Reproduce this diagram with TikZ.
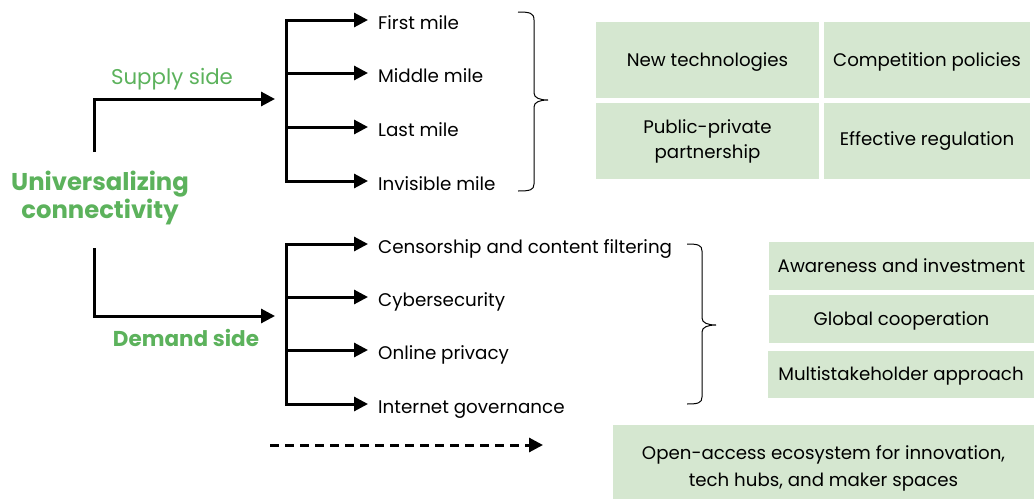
\documentclass[tikz,border=0pt]{standalone}
\usepackage{fontspec}
\setmainfont{Poppins}
\usetikzlibrary{arrows.meta}
\definecolor{grn}{RGB}{92,178,92}
\definecolor{boxg}{RGB}{213,231,208}
\begin{document}
\begin{tikzpicture}[x=1pt,y=-1pt,
  conn/.style={line width=3pt,-{Triangle[length=14pt,width=14pt]}},
  trunk/.style={line width=3pt,line cap=rect},
  item/.style={anchor=west,inner xsep=10pt,inner ysep=0pt,text height=12.5pt,text depth=0pt,yshift=-3.5pt,font=\fontsize{18.3}{21}\selectfont},
  gbox/.style={fill=boxg,inner sep=0pt,align=center,font=\fontsize{18.2}{25}\selectfont},
  onel/.style={text height=12.8pt,text depth=0pt},
  bracestyle/.style={line width=1pt},
  side/.style={text=grn,inner sep=0pt,font=\fontsize{21.3}{24}\selectfont}]
\useasboundingbox (0,0) rectangle (1036,498);

% main label
\node[text=grn,align=center,inner sep=0pt,font=\bfseries\fontsize{24.3}{28}\selectfont] (uc) at (100,198) {Universalizing\\connectivity};

% supply side
\coordinate (s0) at (94,152);
\coordinate (s1) at (275,99);
\draw[conn] (s0) |- (s1);
\node[side] (sup) at (172,79) {Supply side};

\coordinate (t1) at (286,20);
\coordinate (t2) at (286,73);
\coordinate (t3) at (286,127);
\coordinate (t4) at (286,181);
\draw[trunk] (t1) -- (t4);
\node[item] (i1) at (368,20) {First mile};
\node[item] (i2) at (368,73) {Middle mile};
\node[item] (i3) at (368,127) {Last mile};
\node[item] (i4) at (368,181) {Invisible mile};
\foreach \k in {1,2,3,4} \draw[conn] (t\k) -- (t\k -| i\k.west);

% demand side
\coordinate (d0) at (94,248);
\coordinate (d1) at (275,316);
\draw[conn] (d0) |- (d1);
\node[side,font=\bfseries\fontsize{21.5}{24}\selectfont] (dem) at (186,338) {Demand side};

\coordinate (u1) at (286,244);
\coordinate (u2) at (286,297);
\coordinate (u3) at (286,350);
\coordinate (u4) at (286,404);
\draw[trunk] (u1) -- (u4);
\node[item] (j1) at (368,244) {Censorship and content filtering};
\node[item] (j2) at (368,297) {Cybersecurity};
\node[item] (j3) at (368,350) {Online privacy};
\node[item] (j4) at (368,404) {Internet governance};
\foreach \k in {1,2,3,4} \draw[conn] (u\k) -- (u\k -| j\k.west);

% brackets
\draw[bracestyle] (518,12) .. controls (530,12) and (534,13) .. (534,20) -- (534,93)
  .. controls (534,98) and (540,100) .. (548,100)
  .. controls (540,100) and (534,102) .. (534,107) -- (534,184)
  .. controls (534,190) and (530,191) .. (518,191);
\draw[bracestyle] (687,244) .. controls (698,244) and (702,245) .. (702,251) -- (702,318)
  .. controls (702,323) and (708,325) .. (716,325)
  .. controls (708,325) and (702,327) .. (702,332) -- (702,397)
  .. controls (702,403) and (698,404) .. (687,404);

% supply boxes
\node[gbox,onel,minimum width=223pt,minimum height=76pt] (b1) at (707.5,60) {New technologies};
\node[gbox,onel,minimum width=206pt,minimum height=76pt] (b2) at (927,60) {Competition policies};
\node[gbox,minimum width=223pt,minimum height=76pt] (b3) at (707.5,141) {Public-private\\partnership};
\node[gbox,minimum width=206pt,minimum height=76pt] (b4) at (927,141) {Effective regulation};

% demand boxes
\node[gbox,minimum width=265pt,minimum height=48pt] (c1) at (901.5,266) {Awareness and investment};
\node[gbox,onel,minimum width=265pt,minimum height=48pt] (c2) at (901.5,319) {Global cooperation};
\node[gbox,onel,minimum width=266pt,minimum height=47pt] (c3) at (901,374.5) {Multistakeholder approach};

% bottom
\node[gbox,minimum width=421pt,minimum height=86pt,font=\fontsize{18.2}{27}\selectfont] (e1) at (823.5,468) {Open-access ecosystem for innovation,\\tech hubs, and maker spaces};
\coordinate (f0) at (270,445);
\coordinate (f1) at (543,445);
\draw[conn,dash pattern=on 9pt off 6pt] (f0) -- (f1);
\end{tikzpicture}
\end{document}
